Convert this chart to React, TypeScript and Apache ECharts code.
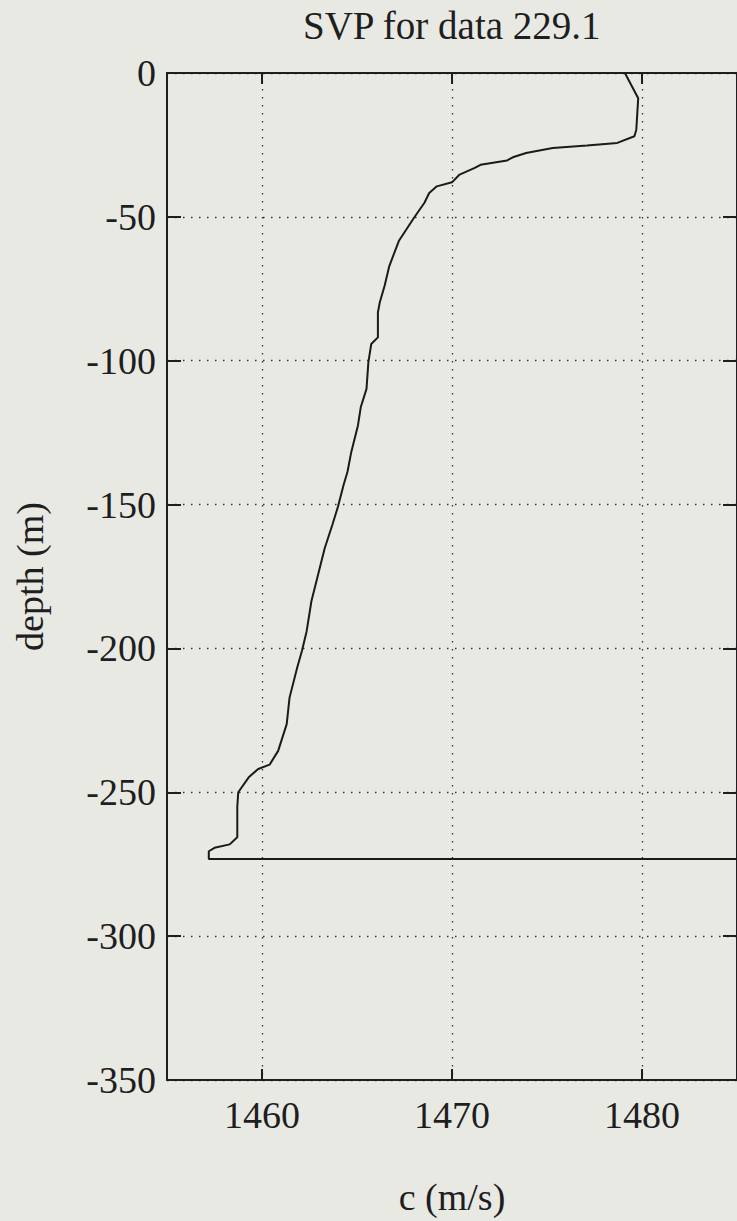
import React, { useEffect, useRef } from "react";
import * as echarts from "echarts";

// Sound speed c (m/s) and depth (m) read from the profile
const speed = [
  1479.1, 1479.8, 1479.7, 1479.6, 1478.7, 1477.1, 1475.3, 1473.9, 1473.2, 1472.9,
  1471.5, 1471.2, 1470.4, 1470.0, 1469.2, 1468.8, 1468.55, 1468.0, 1467.2, 1466.7,
  1466.45, 1466.2, 1466.1, 1466.1, 1465.75, 1465.6, 1465.5, 1465.2, 1465.05, 1464.7,
  1464.5, 1464.3, 1464.0, 1463.7, 1463.3, 1462.95, 1462.6, 1462.35, 1462.1, 1461.85,
  1461.45, 1461.3, 1460.85, 1460.4, 1459.8, 1459.3, 1458.75, 1458.7, 1458.7, 1458.3,
  1457.5, 1457.2, 1457.2, 1490.0,
];
const depth = [
  0, -8.8, -19.7, -22, -24.3, -25.2, -26.1, -27.8, -29.3, -30.4,
  -31.9, -33, -35.3, -38, -39.4, -41.7, -45.1, -50.3, -58.4, -67.1,
  -74, -79.7, -83.2, -91.9, -94.2, -100.5, -109.8, -116.1, -122.5, -131.7,
  -138.6, -143, -150.7, -157.1, -165.2, -174.4, -183.6, -194, -200.9, -206.7,
  -217.1, -226.3, -235.6, -240.4, -241.9, -244.8, -250, -255, -265.6, -268.1,
  -269.3, -270.5, -273.2, -273.2,
];
const xTicks = [1460, 1470, 1480];
const xMin = 1455;
const xMax = 1485;
const yMin = -350;
const yMax = 0;
const yStep = 50;

const titleText = "SVP for data 229.1";
const xName = "c (m/s)";
const yName = "depth (m)";

export default function App() {
  const ref = useRef<HTMLDivElement>(null);
  useEffect(() => {
    if (!ref.current) return;
    const chart = echarts.init(ref.current, null, { renderer: "svg" });
    const font = "Liberation Serif";
    const ink = "#1e1e1e";
    const axisLine = { show: true, onZero: false, lineStyle: { color: ink, width: 2 } };
    const grid = { show: true, lineStyle: { color: "#333", width: 1.3, type: [1.5, 6.5] } };
    const data = speed.map((c, i) => [c, depth[i]]);
    chart.setOption({
      animation: false,
      backgroundColor: "#e9e9e4",
      title: {
        text: titleText,
        left: 303,
        top: 6,
        padding: 0,
        textStyle: { fontFamily: font, fontSize: 39, fontWeight: "normal", color: ink },
      },
      grid: { left: 167, right: 0, top: 73, bottom: 137 },
      xAxis: [
        {
          type: "value",
          position: "bottom",
          min: xMin,
          max: xMax,
          name: xName,
          nameLocation: "middle",
          nameGap: 98,
          nameTextStyle: { fontFamily: font, fontSize: 38, color: ink },
          axisLine,
          axisTick: { show: true, inside: true, length: 11, customValues: xTicks, lineStyle: { color: ink, width: 2 } },
          axisLabel: {
            customValues: xTicks,
            margin: 16,
            fontFamily: font,
            fontSize: 38,
            color: ink,
            formatter: (v: number) => String(v),
          },
          splitLine: grid,
        },
        {
          type: "value",
          position: "top",
          min: xMin,
          max: xMax,
          axisLine,
          axisTick: { show: true, inside: true, length: 11, customValues: xTicks, lineStyle: { color: ink, width: 2 } },
          axisLabel: { show: false, customValues: xTicks },
          splitLine: { show: false },
        },
      ],
      yAxis: [
        {
          type: "value",
          position: "left",
          min: yMin,
          max: yMax,
          interval: yStep,
          name: yName,
          nameLocation: "middle",
          nameGap: 118,
          nameTextStyle: { fontFamily: font, fontSize: 38, color: ink },
          axisLine,
          axisTick: { show: true, inside: true, length: 14, lineStyle: { color: ink, width: 2 } },
          axisLabel: { margin: 11, fontFamily: font, fontSize: 38, color: ink },
          splitLine: grid,
        },
        {
          type: "value",
          position: "right",
          min: yMin,
          max: yMax,
          interval: yStep,
          axisLine,
          axisTick: { show: true, inside: true, length: 14, lineStyle: { color: ink, width: 2 } },
          axisLabel: { show: false },
          splitLine: { show: false },
        },
      ],
      series: [
        {
          type: "line",
          data,
          xAxisIndex: 0,
          yAxisIndex: 0,
          showSymbol: false,
          symbol: "none",
          clip: true,
          lineStyle: { color: "#1a1a1a", width: 2 },
        },
      ],
    });
    return () => chart.dispose();
  }, []);
  return (
    <div
      ref={ref}
      style={{ position: "absolute", left: 0, top: 0, width: 737, height: 1221 }}
    />
  );
}
